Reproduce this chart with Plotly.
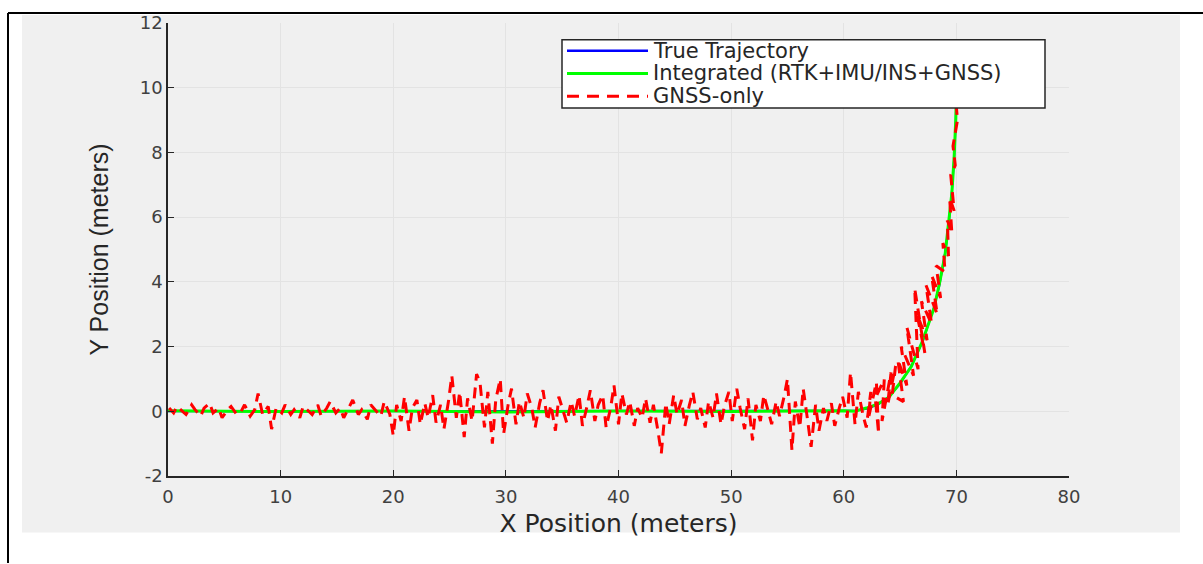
import plotly.graph_objects as go

# ---------------- data ----------------
x_true = [0, 10, 20, 30, 40, 50, 60, 61, 62, 63, 64, 65, 66, 67, 68, 68.5, 69, 69.3, 69.6, 69.8, 69.95, 70.05]
y_true = [0, 0, 0, 0, 0, 0, 0, 0.02, 0.08, 0.2, 0.45, 0.85, 1.4, 2.15, 3.2, 3.9, 4.9, 5.7, 6.8, 7.8, 9.0, 10.6]

x_int = [0, 10, 20, 30, 40, 50, 60, 61, 62, 63, 64, 65, 66, 67, 68, 68.5, 69, 69.3, 69.6, 69.8, 69.95, 70.05]
y_int = [0.02, -0.01, 0.01, -0.02, 0.01, -0.01, 0.02, 0.0, 0.1, 0.22, 0.43, 0.88, 1.38, 2.18, 3.17, 3.95, 4.85, 5.75, 6.75, 7.85, 9.05, 10.6]

x_gnss = [
    0.1, 0.5, 0.8, 1.3, 1.6, 2.1, 2.4, 2.9, 3.2, 3.7, 4.0, 4.5, 4.8, 5.3, 5.6, 6.1, 6.5, 6.8, 7.3, 7.7,
    8.0, 8.4, 8.9, 9.2, 9.6, 10.1, 10.4, 10.9, 11.2, 11.7, 12.0, 12.5, 12.8, 13.3, 13.6, 14.1, 14.4, 14.9, 15.3, 15.6,
    16.1, 16.4, 16.9, 17.2, 17.7, 18.0, 18.5, 18.9, 19.2, 19.7,
    20.0, 20.3, 20.7, 21.0, 21.4, 21.7, 22.1, 22.4, 22.8, 23.1,
    23.5, 23.8, 24.2, 24.5, 24.9, 25.2, 25.6, 25.9, 26.3, 26.6,
    27.0, 27.4, 27.7, 28.1, 28.4, 28.8, 29.1, 29.5, 29.8, 30.2,
    30.5, 30.9, 31.2, 31.6, 31.9, 32.3, 32.6, 33.0, 33.3, 33.7,
    34.0, 34.4, 34.7, 35.1, 35.4, 35.8, 36.1, 36.5, 36.8, 37.2,
    37.5, 37.9, 38.2, 38.6, 38.9, 39.3, 39.6, 40.0, 40.3, 40.7,
    41.0, 41.4, 41.7, 42.1, 42.4, 42.8, 43.1, 43.5, 43.8, 44.2,
    44.5, 44.9, 45.2, 45.6, 45.9, 46.3, 46.6, 47.0, 47.3, 47.7,
    48.0, 48.4, 48.7, 49.1, 49.4, 49.8, 50.1, 50.5, 50.8, 51.2,
    51.5, 51.9, 52.2, 52.6, 52.9, 53.3, 53.6, 54.0, 54.3, 54.7,
    55.0, 55.4, 55.7, 56.1, 56.4, 56.8, 57.1, 57.5, 57.8, 58.2,
    58.5, 58.9, 59.2, 59.6, 59.9, 60.3, 60.6, 61.0, 61.3, 61.7,
    62.0, 62.4, 62.2, 62.9, 63.1, 62.8, 63.6, 63.4, 64.2, 63.9,
    64.6, 64.3, 65.3, 64.8, 65.6, 65.1, 66.2, 65.6, 66.6, 66.3,
    67.2, 66.5, 67.4, 66.9, 67.8, 67.3, 68.3, 67.8, 68.6, 68.2,
    69.0, 68.8, 69.3, 69.2, 69.6, 69.4, 69.8, 69.5, 69.9, 69.7,
    70.1, 69.9, 70.1,
]
y_gnss = [
    0.1, -0.05, 0.15, 0.0, -0.1, 0.2, 0.05, -0.15, 0.1, 0.25, -0.05, 0.1, -0.2, 0.05, 0.15, -0.1, 0.0, 0.2, -0.15, 0.05,
    0.55, -0.1, 0.15, -0.55, 0.1, -0.05, 0.2, -0.1, 0.05, -0.2, 0.15, 0.0, -0.1, 0.2, -0.15, 0.1, 0.3, -0.05, 0.1, -0.2,
    0.15, 0.35, -0.1, 0.05, -0.25, 0.2, 0.0, -0.15, 0.3, -0.1,
    -0.75, 0.2, -0.3, 0.45, -0.6, 0.1, 0.35, -0.4, 0.25, -0.2,
    0.5, -0.35, 0.2, -0.55, 0.3, 1.1, -0.2, 0.6, -0.8, 0.4,
    -0.3, 1.15, 0.9, -0.5, 0.6, -1.0, 0.35, 1.0, -0.7, 0.2,
    0.7, -0.4, 0.3, -0.2, 0.55, 0.1, -0.5, 0.25, 0.65, -0.3,
    0.2, -0.6, 0.45, 0.0, -0.35, 0.3, -0.15, 0.5, -0.45, 0.15,
    0.65, -0.3, 0.2, 0.5, -0.5, 0.1, 0.8, -0.4, 0.55, -0.1,
    0.3, -0.45, 0.1, -0.2, 0.4, -0.35, 0.2, -0.6, -1.3, 0.25,
    -0.4, 0.5, -0.1, 0.35, -0.45, 0.2, 0.6, -0.25, 0.1, -0.5,
    0.3, -0.2, 0.55, -0.4, 0.15, 0.6, -0.3, 0.7, 0.1, -0.55,
    0.4, -0.9, 0.2, -0.3, 0.5, 0.0, -0.4, 0.3, -0.15, 0.45,
    1.0, -1.2, 0.3, -0.5, 0.7, -0.3, -1.1, 0.2, -0.6, 0.1,
    -0.3, 0.25, -0.45, 0.1, 0.45, -0.2, 1.2, -0.4, 0.6, -0.1,
    -0.5, 0.6, -0.2, 0.9, -0.7, 0.4, 1.0, -0.3, 1.2, 0.2,
    1.4, 0.5, 0.3, 1.6, 0.8, 2.0, 1.1, 2.6, 1.3, 3.8,
    1.8, 3.0, 2.2, 3.4, 2.7, 3.9, 3.0, 4.2, 3.5, 4.5,
    4.3, 5.2, 4.8, 5.9, 5.5, 6.6, 6.2, 7.3, 7.6, 8.2,
    9.0, 9.8, 10.6,
]

x_ticks = [0, 10, 20, 30, 40, 50, 60, 70, 80]
x_tick_labels = ["0", "10", "20", "30", "40", "50", "60", "70", "80"]
y_ticks = [-2, 0, 2, 4, 6, 8, 10, 12]
y_tick_labels = ["-2", "0", "2", "4", "6", "8", "10", "12"]

series_names = ["True Trajectory", "Integrated (RTK+IMU/INS+GNSS)", "GNSS-only"]
series_colors = ["#0000ff", "#00ff00", "#ff0000"]

# ---------------- geometry helpers (pixels -> paper) ----------------
W, H = 1203, 564
L, R, T, B = 168, 1069, 18, 476


def px(xp):
    return (xp - L) / (R - L)


def py(yp):
    return (B - yp) / (B - T)


AX = "#262626"
fig = go.Figure()
fig.add_trace(go.Scatter(x=x_true, y=y_true, mode="lines", name=series_names[0],
                         line=dict(color=series_colors[0], width=2)))
fig.add_trace(go.Scatter(x=x_int, y=y_int, mode="lines", name=series_names[1],
                         line=dict(color=series_colors[1], width=3)))
fig.add_trace(go.Scatter(x=x_gnss, y=y_gnss, mode="lines", name=series_names[2],
                         line=dict(color=series_colors[2], width=3, dash="11px,7px")))

shapes = [
    dict(type="rect", xref="paper", yref="paper", x0=px(22), x1=px(1180), y0=py(533), y1=py(10),
         fillcolor="#f0f0f0", line=dict(width=0), layer="below"),
    dict(type="line", xref="paper", yref="paper", x0=px(8), x1=px(1203), y0=py(8), y1=py(8),
         line=dict(color="black", width=2), layer="above"),
    dict(type="line", xref="paper", yref="paper", x0=px(8), x1=px(8), y0=py(8), y1=py(564),
         line=dict(color="black", width=2), layer="above"),
    # legend box
    dict(type="rect", xref="paper", yref="paper", x0=px(562), x1=px(1045), y0=py(104), y1=py(35),
         fillcolor="white", line=dict(color=AX, width=1.5), layer="above"),
]
annotations = []
row_y = [46, 69, 92]
dashes = ["solid", "solid", "12px,8px"]
widths = [2.5, 3, 3]
for i in range(3):
    shapes.append(dict(type="line", xref="paper", yref="paper", x0=px(567), x1=px(648),
                       y0=py(row_y[i]), y1=py(row_y[i]),
                       line=dict(color=series_colors[i], width=widths[i], dash=dashes[i]), layer="above"))
    annotations.append(dict(xref="paper", yref="paper", x=px(651), y=py(row_y[i]), xanchor="left",
                            yanchor="middle", text=series_names[i], showarrow=False,
                            font=dict(family="DejaVu Sans", size=21, color="#262626")))

fig.update_layout(
    width=W, height=H,
    margin=dict(l=L, r=W - R, t=T, b=H - B, pad=0),
    paper_bgcolor="white", plot_bgcolor="white",
    shapes=shapes, annotations=annotations,
    showlegend=False,
    xaxis=dict(range=[0, 80], tickvals=x_ticks, ticktext=x_tick_labels, ticks="inside", ticklen=6,
               tickcolor=AX, showline=True, linecolor=AX, linewidth=1.5, mirror=False,
               showgrid=True, gridcolor="#e3e3e3", gridwidth=1, zeroline=False,
               ticklabelstandoff=4,
               tickfont=dict(family="DejaVu Sans", size=18, color="#404040"),
               title=dict(text="X Position (meters)", standoff=8,
                          font=dict(family="DejaVu Sans", size=25, color="#262626"))),
    yaxis=dict(range=[-2, 12], tickvals=y_ticks, ticktext=y_tick_labels, ticks="inside", ticklen=6,
               tickcolor=AX, showline=True, linecolor=AX, linewidth=1.5, mirror=False,
               showgrid=True, gridcolor="#e3e3e3", gridwidth=1, zeroline=False,
               tickfont=dict(family="DejaVu Sans", size=18, color="#404040"),
               title=dict(text="Y Position (meters)", standoff=24,
                          font=dict(family="Liberation Sans", size=25, color="#262626"))),
)

fig.write_html("out.html", config={"displayModeBar": False},
               post_script="document.body.style.margin='0px';")
